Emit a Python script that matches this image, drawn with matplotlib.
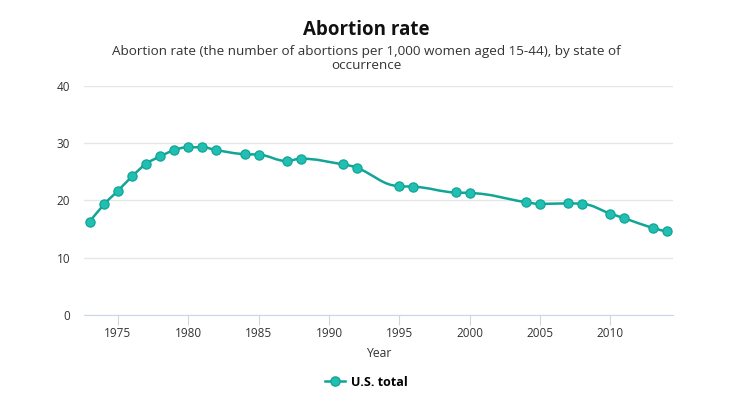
import numpy as np
import matplotlib
matplotlib.use("Agg")
import matplotlib.pyplot as plt
from matplotlib.path import Path
from matplotlib.patches import PathPatch
from matplotlib.lines import Line2D

# data
years = [1973, 1974, 1975, 1976, 1977, 1978, 1979, 1980, 1981, 1982, 1984, 1985,
         1987, 1988, 1991, 1992, 1995, 1996, 1999, 2000, 2004, 2005, 2007, 2008,
         2010, 2011, 2013, 2014]
rate = [16.3, 19.3, 21.7, 24.2, 26.4, 27.7, 28.8, 29.3, 29.3, 28.8, 28.1, 28.0,
        26.9, 27.3, 26.3, 25.7, 22.5, 22.4, 21.4, 21.3, 19.7, 19.4, 19.5, 19.4,
        17.7, 16.9, 15.2, 14.6]
x_ticks = [1975, 1980, 1985, 1990, 1995, 2000, 2005, 2010]
y_ticks = [0, 10, 20, 30, 40]

LINE = "#10a597"
FILL = "#20bfb2"
FONT = ["Open Sans", "DejaVu Sans"]
plt.rcParams["font.family"] = FONT


def spline_path(xs, ys, smoothing=1.5):
    """Highcharts-style spline: cubic bezier segments through every point."""
    n = len(xs)
    denom = smoothing + 1
    left = [(xs[i], ys[i]) for i in range(n)]
    right = [(xs[i], ys[i]) for i in range(n)]
    for i in range(1, n - 1):
        px, py = xs[i], ys[i]
        lx, ly = xs[i - 1], ys[i - 1]
        nx, ny = xs[i + 1], ys[i + 1]
        lcx = (smoothing * px + lx) / denom
        lcy = (smoothing * py + ly) / denom
        rcx = (smoothing * px + nx) / denom
        rcy = (smoothing * py + ny) / denom
        if rcx != lcx:
            corr = (rcy - lcy) * (rcx - px) / (rcx - lcx) + py - rcy
            lcy += corr
            rcy += corr
        if lcy > ly and lcy > py:
            lcy = max(ly, py); rcy = 2 * py - lcy
        elif lcy < ly and lcy < py:
            lcy = min(ly, py); rcy = 2 * py - lcy
        if rcy > ny and rcy > py:
            rcy = max(ny, py); lcy = 2 * py - rcy
        elif rcy < ny and rcy < py:
            rcy = min(ny, py); lcy = 2 * py - rcy
        left[i] = (lcx, lcy)
        right[i] = (rcx, rcy)
    verts = [(xs[0], ys[0])]
    codes = [Path.MOVETO]
    for i in range(1, n):
        verts += [right[i - 1], left[i], (xs[i], ys[i])]
        codes += [Path.CURVE4] * 3
    return Path(verts, codes)


fig = plt.figure(figsize=(7.32, 4.13), dpi=100)
ax = fig.add_axes([0.1148, 0.2373, 0.919 - 0.1148, 0.7918 - 0.2373])

ax.add_patch(PathPatch(spline_path(years, rate), facecolor="none",
                       edgecolor=LINE, lw=1.8, zorder=3))
ax.plot(years, rate, ls="none", marker="o", ms=6.6, mfc=FILL, mec=LINE,
        mew=0.9, zorder=4)

ax.set_xlim(1972.59, 2014.43)
ax.set_ylim(0, 40)
ax.set_yticks(y_ticks)
ax.set_xticks(x_ticks)
ax.grid(axis="y", color="#e6e6e6", lw=1)
ax.set_axisbelow(True)
for s in ["top", "right", "left"]:
    ax.spines[s].set_visible(False)
ax.spines["bottom"].set_color("#ccd6eb")
ax.tick_params(axis="y", length=0, pad=10, labelsize=8.5, labelcolor="#333333")
ax.tick_params(axis="x", length=7, color="#ccd6eb", pad=2, labelsize=8.5,
               labelcolor="#333333")
ax.set_xlabel("Year", fontsize=8.8, color="#333333", labelpad=5)

fig.text(0.5, 0.928, "Abortion rate", ha="center", va="center",
         fontsize=13.5, fontweight="bold", color="#111111")
fig.text(0.5, 0.859, "Abortion rate (the number of abortions per 1,000 women aged 15-44), by state of\noccurrence",
         ha="center", va="center", fontsize=9.7, color="#333333", linespacing=1.1)

handle = Line2D([], [], color=LINE, lw=1.8, marker="o", ms=6.6, mfc=FILL, mec=LINE)
fig.legend([handle], ["U.S. total"], loc="center", bbox_to_anchor=(0.5, 0.075),
           frameon=False, prop={"weight": "bold", "size": 9},
           handlelength=1.6, handletextpad=0.5)

fig.savefig("out.png", dpi=100)
